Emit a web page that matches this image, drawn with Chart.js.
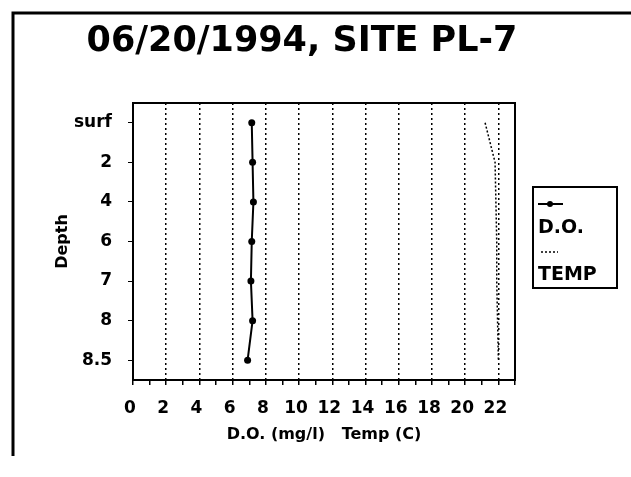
<!DOCTYPE html>
<html>
<head>
<meta charset="utf-8">
<script src="https://cdn.jsdelivr.net/npm/chart.js@4.4.1/dist/chart.umd.min.js"></script>
<style>
  html, body { margin: 0; padding: 0; background: #fff; }
  #wrap { width: 631px; height: 477px; position: relative; }
</style>
</head>
<body>
<div id="wrap"><canvas id="grafico" width="631" height="477"></canvas></div>
<script>
// dados
var titulo = "06/20/1994, SITE PL-7";
var profundidades = ["surf", "2", "4", "6", "7", "8", "8.5"];
var oxigenio = [7.15, 7.2, 7.25, 7.15, 7.1, 7.2, 6.9];
var temperatura = [21.2, 21.8, 21.85, 21.9, 21.9, 21.95, 22.0];
var xMin = 0, xMax = 23;

var fonte = "'DejaVu Sans', sans-serif";

// moldura, titulo e legenda desenhados a mao
var extras = {
  id: 'extras',
  afterDraw: function(chart) {
    var c = chart.ctx;
    var a = chart.chartArea;
    c.save();
    // moldura externa
    c.strokeStyle = '#000';
    c.lineWidth = 3;
    c.beginPath();
    c.moveTo(13, 456);
    c.lineTo(13, 13);
    c.lineTo(631, 13);
    c.stroke();
    // caixa do grafico
    c.lineWidth = 2;
    c.strokeRect(a.left, a.top, a.right - a.left, a.bottom - a.top);
    // titulo
    c.fillStyle = '#000';
    c.font = "bold 35px " + fonte;
    c.textAlign = 'center';
    c.textBaseline = 'middle';
    c.fillText(titulo, 302, 42);
    // legenda
    c.lineWidth = 2;
    c.strokeRect(533, 187, 84, 101);
    c.beginPath();
    c.moveTo(538, 204);
    c.lineTo(563, 204);
    c.stroke();
    c.beginPath();
    c.arc(550, 204, 3, 0, Math.PI * 2);
    c.fill();
    c.lineWidth = 1.5;
    c.setLineDash([2, 2]);
    c.beginPath();
    c.moveTo(541, 252);
    c.lineTo(558, 252);
    c.stroke();
    c.setLineDash([]);
    c.font = "bold 19px " + fonte;
    c.textAlign = 'left';
    c.fillText(chart.data.datasets[0].label, 538, 228);
    c.fillText(chart.data.datasets[1].label, 538, 275);
    c.restore();
  }
};

var ctx = document.getElementById("grafico");

var grafico = new Chart(ctx, {
  type: 'line',
  data: {
    labels: profundidades,
    datasets: [
      {
        label: 'D.O.',
        data: oxigenio,
        borderColor: '#000',
        backgroundColor: '#000',
        borderWidth: 2,
        pointRadius: 3.5,
        pointBackgroundColor: '#000',
        pointBorderWidth: 0
      },
      {
        label: 'TEMP',
        data: temperatura,
        borderColor: '#000',
        borderWidth: 1.5,
        borderDash: [2, 2],
        pointRadius: 0
      }
    ]
  },
  options: {
    responsive: false,
    animation: false,
    indexAxis: 'y',
    layout: { padding: { top: 103, right: 116, left: 0, bottom: 0 } },
    plugins: {
      legend: { display: false },
      tooltip: { enabled: false }
    },
    scales: {
      x: {
        type: 'linear',
        min: xMin,
        max: xMax,
        afterFit: function(s) { s.height = 97; },
        ticks: {
          stepSize: 1,
          autoSkip: false,
          maxRotation: 0,
          padding: 13,
          labelOffset: -3,
          color: '#000',
          font: { family: fonte, size: 17, weight: 'bold' },
          callback: function(v) { return (v % 2 === 0 && v <= 22) ? String(v) : ''; }
        },
        grid: {
          color: function(c) {
            var v = c.tick ? c.tick.value : 0;
            return (v % 2 === 0 && v > 0 && v < 23) ? '#000' : 'rgba(0,0,0,0)';
          },
          lineWidth: 1.5,
          tickColor: '#000',
          tickBorderDash: [],
          tickLength: 5
        },
        border: { display: true, color: '#000', width: 2, dash: [2, 3] },
        title: {
          display: true,
          text: 'D.O. (mg/l)   Temp (C)',
          color: '#000',
          font: { family: fonte, size: 16, weight: 'bold' },
          padding: { top: 0, bottom: 33 }
        }
      },
      y: {
        type: 'category',
        offset: true,
        afterFit: function(s) { s.width = 133; },
        ticks: {
          padding: 16,
          color: '#000',
          font: { family: fonte, size: 17, weight: 'bold' }
        },
        grid: {
          offset: false,
          color: 'rgba(0,0,0,0)',
          tickColor: '#000',
          tickLength: 5
        },
        border: { display: true, color: '#000', width: 2 },
        title: {
          display: true,
          text: 'Depth',
          color: '#000',
          font: { family: fonte, size: 16, weight: 'bold' },
          padding: { top: 53, bottom: 0 }
        }
      }
    }
  },
  plugins: [extras]
});
</script>
</body>
</html>
